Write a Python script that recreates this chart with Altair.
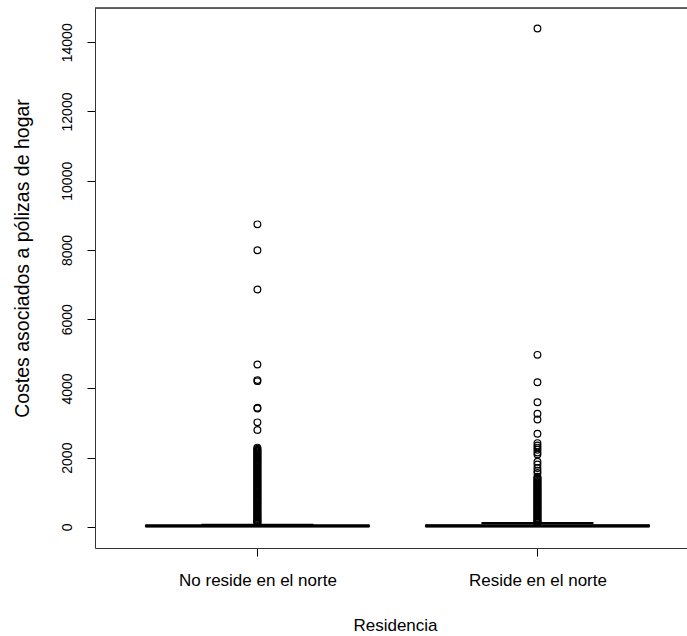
import altair as alt
import pandas as pd

# ---- data ----
categories = ["No reside en el norte", "Reside en el norte"]
positions = [1, 2]
q1 = [5, 5]
median = [25, 25]
q3 = [55, 60]
whisker_lo = [0, 0]
whisker_hi = [60, 115]

outliers_no = [8740, 7990, 6860, 4690, 4240, 4210, 3440, 3420, 3020, 2800, 2290, 2260,
               2230, 2200, 2180, 2150, 2120, 2100, 2070, 2040, 2020, 1990, 1960, 1940,
               1910, 1880, 1860, 1830, 1800, 1780, 1750, 1720, 1700, 1670, 1640, 1620,
               1590, 1560, 1540, 1510, 1480, 1460, 1430, 1400, 1380, 1350, 1320, 1300,
               1270, 1240, 1220, 1190, 1160, 1140, 1110, 1080, 1060, 1030, 1000, 980,
               950, 920, 900, 870, 840, 820, 790, 760, 740, 710, 680, 660, 630, 600,
               580, 550, 520, 500, 470, 440, 420, 390, 360, 340, 310, 280, 260, 230,
               200, 180, 150, 130, 110]
outliers_si = [14400, 4970, 4180, 3600, 3270, 3100, 2690, 2420, 2350, 2290, 2230, 2150,
               2090, 1880, 1800, 1700, 1620, 1560, 1450, 1420, 1390, 1360, 1330, 1300,
               1280, 1250, 1220, 1200, 1170, 1140, 1120, 1090, 1060, 1040, 1010, 980,
               960, 930, 900, 880, 850, 820, 800, 770, 740, 720, 690, 660, 640, 610,
               580, 560, 530, 500, 480, 450, 420, 400, 370, 340, 320, 290, 260, 240,
               210, 180, 160, 140, 125]

y_ticks = [0, 2000, 4000, 6000, 8000, 10000, 12000, 14000]
y_domain = [-610, 14990]
x_domain = [0.42, 2.534]

FONT = "Liberation Sans"

box_df = pd.DataFrame({
    "cat": categories,
    "pos": positions,
    "left": [p - 0.4 for p in positions],
    "right": [p + 0.4 for p in positions],
    "sl": [p - 0.2 for p in positions],
    "sr": [p + 0.2 for p in positions],
    "q1": q1, "median": median, "q3": q3,
    "lo": whisker_lo, "hi": whisker_hi,
})

out_df = pd.DataFrame({
    "pos": [positions[0]] * len(outliers_no) + [positions[1]] * len(outliers_si),
    "value": outliers_no + outliers_si,
})

label_expr = "datum.value == 1 ? '%s' : '%s'" % (categories[0], categories[1])

xscale = alt.Scale(domain=x_domain, nice=False, zero=False)
yscale = alt.Scale(domain=y_domain, nice=False, zero=False)

x_axis = alt.Axis(values=positions, labelExpr=label_expr, title="Residencia",
                  grid=False, tickSize=8, tickColor="black", domainColor="#333",
                  labelFont=FONT, labelFontSize=17, labelColor="black",
                  labelBaseline="middle", labelPadding=24,
                  titleFont=FONT, titleFontSize=17, titleFontWeight="normal",
                  titleColor="black", titleY=77, titleX=300, titleBaseline="middle")
y_axis = alt.Axis(values=y_ticks, format="d", title="Costes asociados a pólizas de hogar",
                  grid=False, tickSize=8, tickColor="black", domainColor="#333",
                  labelFont=FONT, labelFontSize=14, labelColor="black",
                  labelAngle=270, labelAlign="center", labelBaseline="bottom",
                  labelPadding=13,
                  titleFont=FONT, titleFontSize=19.5, titleFontWeight="normal",
                  titleColor="black", titleAngle=270, titleX=-73, titleY=250,
                  titleBaseline="middle", titleAlign="center")

base = alt.Chart(box_df)

whisk_up = base.mark_rule(color="black", strokeDash=[4, 3]).encode(
    x=alt.X("pos:Q", scale=xscale, axis=x_axis),
    y=alt.Y("q3:Q", scale=yscale, axis=y_axis),
    y2="hi:Q",
)
staple = base.mark_rule(color="black", strokeWidth=2).encode(
    x=alt.X("sl:Q", scale=xscale), x2="sr:Q", y=alt.Y("hi:Q", scale=yscale))
box = base.mark_rect(fill="white", stroke="black", strokeWidth=1).encode(
    x=alt.X("left:Q", scale=xscale), x2="right:Q",
    y=alt.Y("q1:Q", scale=yscale), y2="q3:Q")
med = base.mark_rule(color="black", strokeWidth=3).encode(
    x=alt.X("left:Q", scale=xscale), x2="right:Q", y=alt.Y("median:Q", scale=yscale))
pts = alt.Chart(out_df).mark_point(shape="circle", filled=False, color="black",
                                   size=45, strokeWidth=1.2, opacity=1).encode(
    x=alt.X("pos:Q", scale=xscale), y=alt.Y("value:Q", scale=yscale))
top_line = alt.Chart(box_df).mark_rule(color="#333", strokeWidth=1).encode(
    x=alt.value(0), x2=alt.value(600), y=alt.value(0))

chart = alt.layer(whisk_up, staple, box, med, pts, top_line).properties(
    width=592, height=540, autosize="none",
    padding={"left": 95, "top": 8, "right": 0, "bottom": 88},
).configure_view(stroke=None).configure(background="white")

chart.save("out.html", embed_options={"renderer": "svg", "actions": False})
